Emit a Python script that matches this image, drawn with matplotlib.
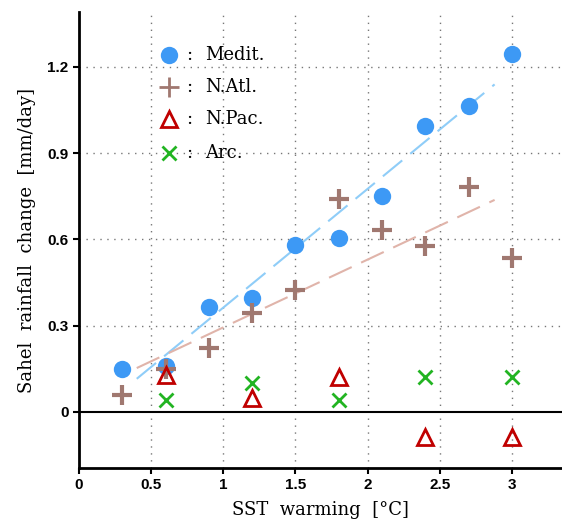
import numpy as np
import matplotlib.pyplot as plt

sst = [0.3, 0.6, 0.9, 1.2, 1.5, 1.8, 2.1, 2.4, 2.7, 3.0]
medit = [0.15, 0.16, 0.365, 0.395, 0.58, 0.605, 0.75, 0.995, 1.065, 1.245]
natl = [0.06, 0.15, 0.223, 0.344, 0.424, 0.741, 0.633, 0.577, 0.783, 0.536]
sst_pac = [0.6, 1.2, 1.8, 2.4, 3.0]
npac = [0.129, 0.049, 0.122, -0.087, -0.087]
arc = [0.042, 0.10, 0.042, 0.122, 0.122]

xticks = [0, 0.5, 1, 1.5, 2, 2.5, 3]
xticklabels = ['0', '0.5', '1', '1.5', '2', '2.5', '3']
yticks = [0, 0.3, 0.6, 0.9, 1.2]
yticklabels = ['0', '0.3', '0.6', '0.9', '1.2']
names = ['Medit.', 'N.Atl.', 'N.Pac.', 'Arc.']

c_med = '#3d99f5'
c_atl = '#a07870'
c_pac = '#c00000'
c_arc = '#22b422'
serif = 'DejaVu Serif'

fig = plt.figure(figsize=(5.62, 5.26), dpi=100)
ax = fig.add_axes([0.1406, 0.1103, 0.8594, 0.8667])
ax.set_xlim(0, 3.347)
ax.set_ylim(-0.195, 1.39)

# grid
for x in xticks[1:]:
    ax.axvline(x, color='#777777', ls=(0, (1, 4)), lw=1, zorder=0)
for y in yticks[1:]:
    ax.axhline(y, color='#777777', ls=(0, (1, 4)), lw=1, zorder=0)
ax.axhline(0, color='black', lw=1.5, zorder=1)

# regression lines
xf = np.array([0.4, 2.88])
p = np.polyfit(sst, medit, 1)
ax.plot(xf, np.polyval(p, xf), color='#8fcdf8', lw=1.5, ls=(0, (12, 5)), zorder=2)
p = np.polyfit(sst, natl, 1)
ax.plot(xf, np.polyval(p, xf), color='#e0b4aa', lw=1.5, ls=(0, (12, 5)), zorder=2)

styles = [
    dict(marker='o', color=c_med, ms=12.5, mec='none'),
    dict(marker='+', color=c_atl, ms=14, mew=3),
    dict(marker='^', color=c_pac, mfc='none', ms=12, mew=2),
    dict(marker='x', color=c_arc, ms=10, mew=2),
]
ax.plot(sst, medit, ls='none', zorder=3, **styles[0])
ax.plot(sst, natl, ls='none', zorder=4, **styles[1])
ax.plot(sst_pac, npac, ls='none', zorder=5, **styles[2])
ax.plot(sst_pac, arc, ls='none', zorder=5, **styles[3])

# legend drawn by hand
rows = [0.906, 0.836, 0.765, 0.691]
for name, st, yy in zip(names, styles, rows):
    st = dict(st)
    if st['marker'] == '+':
        st['mew'] = 2
    ax.plot([0.1863], [yy], ls='none', transform=ax.transAxes, clip_on=False, zorder=6, **st)
    ax.text(0.222, yy, ':', transform=ax.transAxes, va='center', ha='left',
            fontfamily=serif, fontsize=13)
    ax.text(0.262, yy, name, transform=ax.transAxes, va='center', ha='left',
            fontfamily=serif, fontsize=13)

ax.spines['top'].set_visible(False)
ax.spines['right'].set_visible(False)
ax.spines['left'].set_linewidth(2)
ax.spines['bottom'].set_linewidth(2)
ax.set_xticks(xticks)
ax.set_xticklabels(xticklabels, fontfamily='Liberation Sans', fontweight='bold', fontsize=11)
ax.set_yticks(yticks)
ax.set_yticklabels(yticklabels, fontfamily='Liberation Sans', fontweight='bold', fontsize=11)
ax.tick_params(direction='out', length=4, width=1.5)

ax.set_xlabel('SST  warming  [°C]', fontfamily=serif, fontsize=13, labelpad=6)
ax.set_ylabel('Sahel  rainfall  change  [mm/day]', fontfamily=serif, fontsize=13, labelpad=8)

fig.savefig('out.png', dpi=100)
